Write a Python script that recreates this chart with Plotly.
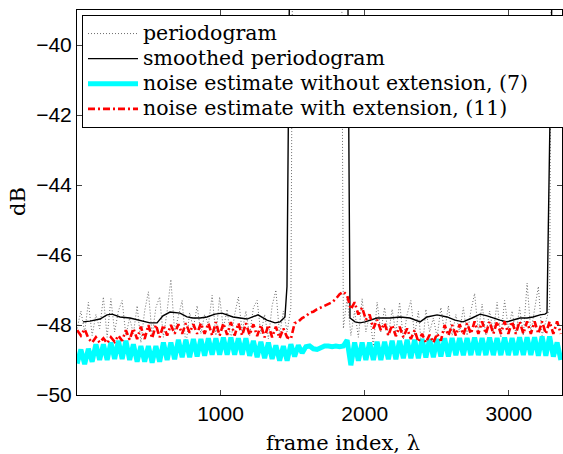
import plotly.graph_objects as go

# frame grid (index axis)
frames = list(range(6, 3361, 26))

periodogram_db = [
    -48.1, -47.6, -48.2, -47.35, -48.3, -47.7, -48.1, -47.2, -48.35, -47.25, -48.2, -47.6,
    -47.3, -48.3, -47.8, -48.25, -47.45, -48.5, -47.6, -47.05, -48.3, -47.5, -47.2, -48.35,
    -47.6, -46.7, -48.2, -47.7, -47.3, -48.6, -47.65, -48.1, -47.45, -48.25, -47.7, -48.0,
    -47.15, -48.3, -47.2, -48.1, -47.55, -48.45, -47.7, -47.2, -48.2, -47.6, -48.3, -47.5,
    -47.3, -48.25, -47.7, -48.4, -47.45, -47.0, -48.3, -47.6, -48.2, -47.5,
    -25, -25, -25, -25, -25, -25, -25, -25, -25, -25, -25, -25, -25,
    -48.1, -47.2, -48.3, -47.6, -48.35, -47.25, -48.2, -47.7, -48.6, -47.35, -48.2, -47.5, -48.3,
    -47.55, -48.25, -47.35, -48.4, -47.7, -47.3, -48.3, -47.6, -48.8, -47.55, -48.2, -47.8,
    -48.35, -47.5, -48.2, -47.45, -48.3, -47.7, -48.2, -47.5, -48.3, -47.6, -47.1, -48.2,
    -47.4, -48.3, -47.6, -48.2, -47.35, -48.35, -47.3, -48.1, -47.6, -48.25, -47.5, -48.3,
    -46.8, -48.2, -47.55, -46.9, -48.3, -47.9,
    -47.5, -25, -25, -25,
]

noise_no_ext_db = [
    -49.10, -48.70, -49.12, -48.68, -49.05,
    -48.55, -49.00, -48.55, -49.00, -48.50,
    -48.97, -48.45, -48.97, -48.45,
    -49.00, -48.55, -49.05, -48.60, -49.05, -48.60, -49.08, -48.60, -49.05,
    -48.50, -49.00, -48.50, -48.98,
    -48.42, -48.92, -48.42, -48.92, -48.40, -48.90, -48.40,
    -48.88, -48.38, -48.85, -48.38, -48.85, -48.36, -48.85, -48.36, -48.85, -48.38, -48.85, -48.38, -48.88,
    -48.45, -48.92, -48.48, -48.95, -48.50, -48.97,
    -48.58, -49.02, -48.60, -49.02,
    -48.55, -48.90, -48.58, -48.80,
    -48.62, -48.60, -48.68, -48.70, -48.64, -48.60, -48.60, -48.62, -48.60, -48.62, -48.60,
    -48.43, -49.15,
    -48.50, -49.02, -48.50, -49.00, -48.50, -49.00, -48.48, -49.00, -48.48, -48.98, -48.45, -48.98, -48.45,
    -48.95, -48.42, -48.95, -48.42, -48.95, -48.40, -48.93, -48.40, -48.92, -48.40, -48.90, -48.38, -48.90,
    -48.37, -48.86, -48.37, -48.86, -48.37, -48.86, -48.36, -48.86, -48.37, -48.86, -48.36, -48.86,
    -48.37, -48.86, -48.36, -48.86, -48.37, -48.86, -48.35, -48.86, -48.35, -48.86, -48.35,
    -48.88, -48.33, -48.88, -48.33, -48.90,
    -48.50, -49.00,
]

noise_ext_db = [
    -48.15, -48.30, -48.12,
    -48.38, -48.50, -48.35, -48.50, -48.38, -48.52, -48.35, -48.48, -48.30, -48.45,
    -48.15, -48.42, -48.10, -48.40, -48.05, -48.40, -48.00, -48.38, -48.00, -48.35, -48.00, -48.30,
    -48.00, -48.25, -47.98, -48.25, -47.95, -48.22, -47.98, -48.25, -47.95, -48.25, -47.95,
    -48.30, -47.92, -48.30, -47.95, -48.28, -47.92, -48.30, -47.95, -48.30, -47.95, -48.28, -47.98, -48.32,
    -48.00, -48.35, -48.00, -48.35, -48.05, -48.38, -48.10,
    -48.35, -48.40,
    -47.95, -47.90, -47.80, -47.75, -47.65, -47.62, -47.55, -47.50, -47.45, -47.42, -47.35, -47.25, -47.12, -47.05,
    -47.15, -47.55, -47.35, -47.70, -47.50, -47.85, -47.70, -48.10, -47.85, -48.15,
    -47.95, -48.30, -48.00, -48.32, -48.05, -48.35, -48.10, -48.40, -48.15,
    -48.48, -48.25, -48.50, -48.28, -48.50, -48.25, -48.45,
    -48.00, -48.30, -48.00, -48.30, -47.98, -48.28, -47.95,
    -48.25, -47.90, -48.25, -47.90, -48.25, -47.90, -48.25, -47.90, -48.25, -47.90, -48.25, -47.90, -48.25,
    -47.90, -48.25, -47.90, -48.25, -47.90, -48.25, -47.90, -48.25, -47.90, -48.25, -47.90, -48.25,
]

smooth_frames = [
    46, 95, 164, 213, 248, 303, 372, 442, 511, 560, 601, 650, 719, 768, 809, 858, 906, 962,
    1010, 1087, 1135, 1184, 1260, 1288, 1322, 1378, 1413, 1440, 1447, 1461, 1478, 1495,
    1870, 1898, 1933, 1967, 2002, 2037, 2085, 2127, 2176, 2245, 2314, 2384, 2432, 2502,
    2571, 2626, 2682, 2744, 2800, 2848, 2890, 2938, 2987, 3028, 3077, 3126, 3167, 3216,
    3250, 3264, 3285, 3300, 3330, 3368,
]
smooth_db = [
    -47.91, -47.89, -47.83, -47.71, -47.69, -47.77, -47.80, -47.86, -47.94, -47.94, -47.74,
    -47.63, -47.66, -47.77, -47.80, -47.80, -47.77, -47.69, -47.66, -47.77, -47.80, -47.83,
    -47.71, -47.77, -47.86, -47.94, -47.91, -47.80, -47.77, -46.90, -39.00, -30.00,
    -30.00, -47.80, -47.91, -47.94, -47.91, -47.86, -47.80, -47.80, -47.80, -47.77, -47.80,
    -47.91, -47.77, -47.71, -47.77, -47.86, -47.91, -47.80, -47.69, -47.74, -47.80, -47.86,
    -47.91, -47.86, -47.80, -47.80, -47.77, -47.71, -47.69, -47.65, -42.20, -38.50, -30.00,
    -30.00,
]

series_names = [
    "periodogram",
    "smoothed periodogram",
    "noise estimate without extension, (7)",
    "noise estimate with extension, (11)",
]
x_ticks = [1000, 2000, 3000]
y_ticks = [-50, -48, -46, -44, -42, -40]

serif = "DejaVu Serif"
sans = "Liberation Sans, Arial, sans-serif"


def legend_label(text, pad=0):
    return '<span style="font-size:20.5px">' + text + "\u00a0" * pad + "</span>"


fig = go.Figure()
fig.add_trace(go.Scatter(x=frames, y=periodogram_db, mode="lines", name=legend_label(series_names[0]),
                         line=dict(color="#6e6e6e", width=1, dash="1px,2px")))
fig.add_trace(go.Scatter(x=smooth_frames, y=smooth_db, mode="lines", name=legend_label(series_names[1]),
                         line=dict(color="black", width=1.4)))
fig.add_trace(go.Scatter(x=frames, y=noise_no_ext_db, mode="lines",
                         name=legend_label(series_names[2], pad=5),
                         line=dict(color="#00FFFF", width=5)))
fig.add_trace(go.Scatter(x=frames, y=noise_ext_db, mode="lines",
                         name=legend_label(series_names[3]),
                         line=dict(color="#FF0000", width=2.6, dash="7px,3px,2px,3px")))

fig.update_layout(
    width=563, height=454,
    margin=dict(l=77, r=1, t=10, b=59, autoexpand=False),
    paper_bgcolor="white", plot_bgcolor="white",
    showlegend=True,
    legend=dict(x=(82 - 77) / 485, y=1 - (15 - 10) / 385, xanchor="left", yanchor="top",
                bgcolor="white", bordercolor="black", borderwidth=1,
                font=dict(family=serif, size=17, color="black"),
                itemwidth=50, tracegroupgap=0),
    annotations=[
        dict(text="frame index, \u03bb", x=(343 - 77) / 485, y=-(443 - 395) / 385,
             xref="paper", yref="paper", xanchor="center", yanchor="middle",
             showarrow=False, font=dict(family=serif, size=21, color="black")),
        dict(text="dB", x=-(77 - 18) / 485, y=(395 - 202) / 385,
             xref="paper", yref="paper", xanchor="center", yanchor="middle", textangle=-90,
             showarrow=False, font=dict(family=serif, size=21, color="black")),
    ],
)

fig.update_xaxes(range=[5, 3368], tickvals=x_ticks, ticks="inside", ticklen=5,
                 showline=True, linecolor="black", linewidth=1, mirror="ticks",
                 showgrid=False, zeroline=False, automargin=False,
                 tickfont=dict(family=sans, size=21, color="black"))
fig.update_yaxes(range=[-50, -39], tickvals=y_ticks, ticks="inside", ticklen=5,
                 showline=True, linecolor="black", linewidth=1, mirror="ticks",
                 showgrid=False, zeroline=False, automargin=False,
                 tickfont=dict(family=sans, size=21, color="black"))

fig.write_html("out.html",
               config={"displayModeBar": False},
               post_script="document.body.style.margin='0';document.body.style.overflow='hidden';")
